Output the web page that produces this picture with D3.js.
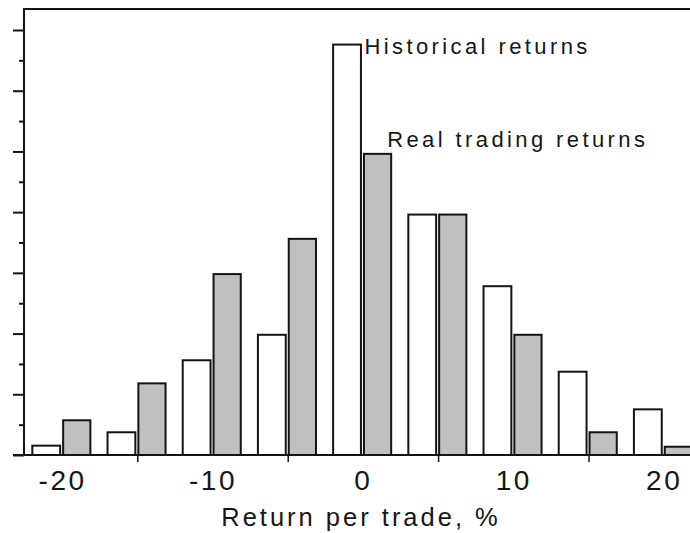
<!DOCTYPE html>
<html>
<head>
<meta charset="utf-8">
<script src="https://cdn.jsdelivr.net/npm/d3@7"></script>
<style>
  html, body { margin: 0; padding: 0; background: #fff; }
  svg { display: block; }
  text { font-family: "Liberation Sans", Arial, sans-serif; fill: #161616; }
</style>
</head>
<body>
<svg id="chart" width="690" height="533"></svg>
<script>
// ---- data (share of trades, %) ----
const bins = [-20, -15, -10, -5, 0, 5, 10, 15, 20];
const historical = [0.77, 1.87, 7.8, 9.9, 33.8, 19.8, 13.9, 6.86, 3.76];
const realTrading = [2.86, 5.9, 14.9, 17.8, 24.8, 19.8, 9.9, 1.87, 0.68];
const xLabelTicks = [-20, -10, 0, 10, 20];
const xMinorTicks = [-15, -5, 5, 15];
const yMajorTicks = [0, 5, 10, 15, 20, 25, 30, 35];
const yMinorTicks = [2.5, 7.5, 12.5, 17.5, 22.5, 27.5, 32.5];
const seriesNames = ["Historical returns", "Real trading returns"];
const axisTitle = "Return per trade, %";

// ---- layout ----
const W = 690, H = 533;
const plotLeft = 24, plotTop = 9, plotBottom = 455;
const svg = d3.select("#chart");

const x = d3.scaleLinear().domain([-15, 15]).range([137.3, 588.5]);
const y = d3.scaleLinear().domain([0, 35]).range([plotBottom, 30]);

const ink = "#141414";

// bars
const rows = bins.map((b, i) => ({ b, h: historical[i], r: realTrading[i] }));

svg.append("g").selectAll("rect.hist").data(rows).join("rect")
  .attr("class", "hist")
  .attr("x", d => x(d.b - 1.98))
  .attr("width", d => x(d.b - 0.13) - x(d.b - 1.98))
  .attr("y", d => y(d.h))
  .attr("height", d => y(0) - y(d.h))
  .attr("fill", "#ffffff")
  .attr("stroke", ink)
  .attr("stroke-width", 2);

svg.append("g").selectAll("rect.real").data(rows).join("rect")
  .attr("class", "real")
  .attr("x", d => x(d.b + 0.07))
  .attr("width", d => x(d.b + 1.88) - x(d.b + 0.07))
  .attr("y", d => y(d.r))
  .attr("height", d => y(0) - y(d.r))
  .attr("fill", "#c0c0c0")
  .attr("stroke", ink)
  .attr("stroke-width", 2);

// frame: left and top lines
svg.append("line").attr("x1", plotLeft).attr("x2", plotLeft).attr("y1", plotTop).attr("y2", plotBottom)
  .attr("stroke", ink).attr("stroke-width", 2);
svg.append("line").attr("x1", plotLeft - 1).attr("x2", W).attr("y1", plotTop).attr("y2", plotTop)
  .attr("stroke", ink).attr("stroke-width", 2);

// y axis ticks (no labels)
const yMajor = svg.append("g").attr("transform", `translate(${plotLeft},0)`)
  .call(d3.axisLeft(y).tickValues(yMajorTicks).tickSize(11).tickFormat(""));
const yMinor = svg.append("g").attr("transform", `translate(${plotLeft},0)`)
  .call(d3.axisLeft(y).tickValues(yMinorTicks).tickSize(5).tickFormat(""));
[yMajor, yMinor].forEach(g => {
  g.select(".domain").remove();
  g.selectAll(".tick line").attr("stroke", ink).attr("stroke-width", 2);
});

// x axis baseline
svg.append("line").attr("x1", 13).attr("x2", W).attr("y1", plotBottom).attr("y2", plotBottom)
  .attr("stroke", ink).attr("stroke-width", 2);

// x minor ticks (downward)
const xMinor = svg.append("g").attr("transform", `translate(0,${plotBottom})`)
  .call(d3.axisBottom(x).tickValues(xMinorTicks).tickSize(7).tickFormat(""));
xMinor.select(".domain").remove();
xMinor.selectAll(".tick line").attr("stroke", ink).attr("stroke-width", 1.5);

// x labels
const xLab = svg.append("g").attr("transform", `translate(0,${plotBottom})`)
  .call(d3.axisBottom(x).tickValues(xLabelTicks).tickSize(0).tickPadding(0));
xLab.select(".domain").remove();
xLab.selectAll(".tick text")
  .attr("y", 35).attr("dy", 0).attr("dx", 0)
  .style("font-family", "'Liberation Sans', Arial, sans-serif")
  .style("font-size", "28px")
  .style("letter-spacing", "2.5px")
  .attr("fill", ink)
  .text(d => d < 0 ? "-" + Math.abs(d) : String(d));

// axis title
svg.append("text")
  .attr("x", 361).attr("y", 526)
  .attr("text-anchor", "middle")
  .style("font-size", "25.5px")
  .style("letter-spacing", "3px")
  .text(axisTitle);

// series labels next to the tallest bars
svg.append("text")
  .attr("x", x(bins[4] - 0.13) + 3.5).attr("y", y(historical[4]) + 9.3)
  .style("font-size", "22px")
  .style("letter-spacing", "3.4px")
  .text(seriesNames[0]);

svg.append("text")
  .attr("x", x(bins[4] + 1.88) - 4).attr("y", y(realTrading[4]) - 6.6)
  .style("font-size", "22px")
  .style("letter-spacing", "3.4px")
  .text(seriesNames[1]);
</script>
</body>
</html>
